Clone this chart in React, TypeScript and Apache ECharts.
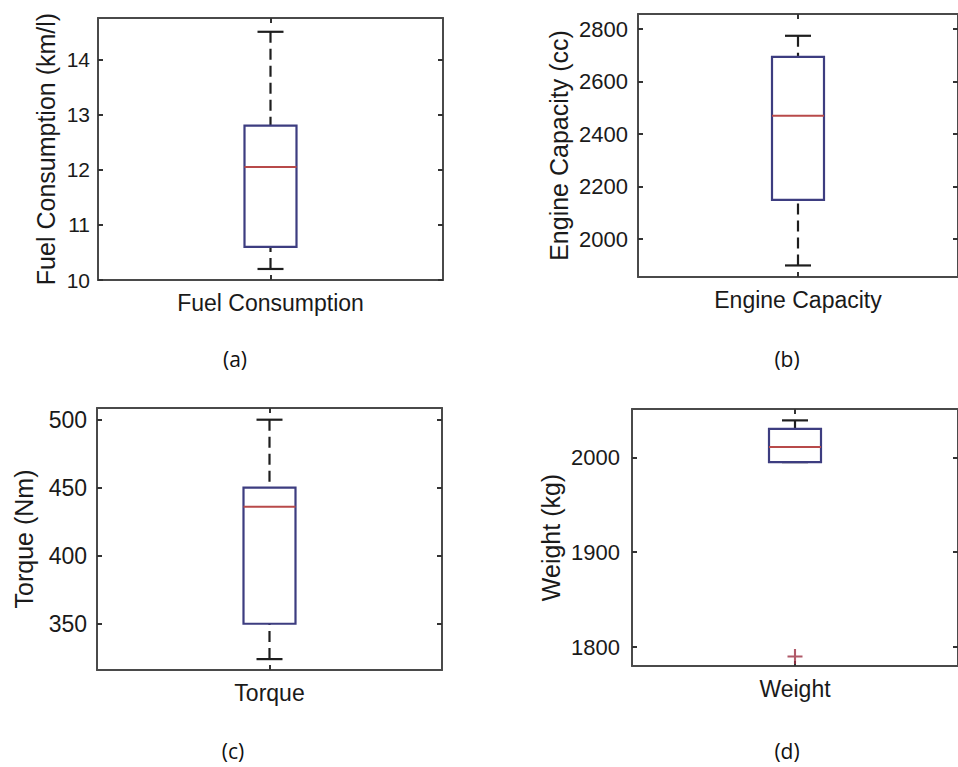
import React, { useEffect, useRef } from "react";
import * as echarts from "echarts";

// ---- data ----
const categories = ["Fuel Consumption", "Engine Capacity", "Torque", "Weight"];
const yAxisNames = ["Fuel Consumption (km/l)", "Engine Capacity (cc)", "Torque (Nm)", "Weight (kg)"];
const captions = ["(a)", "(b)", "(c)", "(d)"];
// [lower whisker, Q1, median, Q3, upper whisker]
const fuelBox = [10.2, 10.6, 12.05, 12.8, 14.5];
const engineBox = [1900, 2150, 2470, 2695, 2775];
const torqueBox = [324, 350, 436, 450, 500];
const weightBox = [1995, 1995, 2011, 2030, 2039];
const weightOutliers = [1790];
const fuelTicks = [10, 11, 12, 13, 14];
const engineTicks = [2000, 2200, 2400, 2600, 2800];
const torqueTicks = [350, 400, 450, 500];
const weightTicks = [1800, 1900, 2000];
const yMins = [10, 1856, 316, 1780];
const yMaxs = [14.75, 2858, 508.6, 2051];

const boxes = [fuelBox, engineBox, torqueBox, weightBox];
const ticks = [fuelTicks, engineTicks, torqueTicks, weightTicks];
const outliers = [[], [], [], weightOutliers];

// ---- layout / style ----
const grids = [
  { left: 98, top: 18, width: 345, height: 262 },
  { left: 638, top: 14, width: 322, height: 263 },
  { left: 97, top: 408, width: 345, height: 262 },
  { left: 632, top: 409, width: 328, height: 257 },
];
const tickFont = [21, 22, 23, 22];
const tickMargin = [8, 10, 10, 12];
const nameGaps = [40, 67, 61, 69];
const captionPos = [
  [235, 359],
  [787, 359],
  [233, 751],
  [787, 751],
];
const FONT = '"Liberation Sans", Arial, sans-serif';
const FRAME = "#4a4a4a";
const BOX_COLOR = "#3d3d80";
const MEDIAN_COLOR = "#b84a4a";
const WHISKER_COLOR = "#1e1e1e";
const TEXT = "#1a1a1a";

function buildOption() {
  const xAxis: any[] = [];
  const yAxis: any[] = [];
  const series: any[] = [];
  const axisLine = { show: true, onZero: false, lineStyle: { color: FRAME, width: 2 } };
  const plain = (v: number) => String(v);

  for (let i = 0; i < 4; i++) {
    const xTick = { show: true, inside: true, alignWithLabel: true, length: 5, lineStyle: { color: "#333", width: 2 } };
    xAxis.push({
      type: "category",
      gridIndex: i,
      data: [categories[i]],
      position: "bottom",
      axisLine,
      axisTick: xTick,
      axisLabel: { fontSize: 23, color: TEXT, margin: 11, fontFamily: FONT },
      splitLine: { show: false },
    });
    xAxis.push({
      type: "category",
      gridIndex: i,
      data: [categories[i]],
      position: "top",
      axisLine,
      axisTick: xTick,
      axisLabel: { show: false },
      splitLine: { show: false },
    });
    const yTick = { show: true, inside: true, length: 5, customValues: ticks[i], lineStyle: { color: "#333", width: 2 } };
    yAxis.push({
      type: "value",
      gridIndex: i,
      min: yMins[i],
      max: yMaxs[i],
      position: "left",
      axisLine,
      axisTick: yTick,
      axisLabel: {
        customValues: ticks[i],
        formatter: plain,
        fontSize: tickFont[i],
        color: TEXT,
        margin: tickMargin[i],
        fontFamily: FONT,
      },
      splitLine: { show: false },
      name: yAxisNames[i],
      nameLocation: "middle",
      nameRotate: 90,
      nameGap: nameGaps[i],
      nameTextStyle: { fontSize: 25, color: TEXT, fontFamily: FONT },
    });
    yAxis.push({
      type: "value",
      gridIndex: i,
      min: yMins[i],
      max: yMaxs[i],
      position: "right",
      axisLine,
      axisTick: yTick,
      axisLabel: { show: false },
      splitLine: { show: false },
    });

    series.push({
      type: "custom",
      xAxisIndex: 2 * i,
      yAxisIndex: 2 * i,
      encode: { x: 0, y: [1, 2, 3, 4, 5] },
      data: [[0, ...boxes[i]]],
      clip: false,
      renderItem: (_params: any, api: any) => {
        const x = api.value(0);
        const lo = api.coord([x, api.value(1)]);
        const q1 = api.coord([x, api.value(2)]);
        const md = api.coord([x, api.value(3)]);
        const q3 = api.coord([x, api.value(4)]);
        const hi = api.coord([x, api.value(5)]);
        const cx = lo[0];
        const bw = 52;
        const cw = 26;
        const dash = { stroke: WHISKER_COLOR, lineWidth: 2.2, lineDash: [11, 6] };
        const solid = { stroke: WHISKER_COLOR, lineWidth: 2.2 };
        return {
          type: "group",
          children: [
            { type: "line", shape: { x1: cx, y1: hi[1], x2: cx, y2: q3[1] }, style: dash },
            { type: "line", shape: { x1: cx, y1: lo[1], x2: cx, y2: q1[1] }, style: dash },
            { type: "line", shape: { x1: cx - cw / 2, y1: hi[1], x2: cx + cw / 2, y2: hi[1] }, style: solid },
            { type: "line", shape: { x1: cx - cw / 2, y1: lo[1], x2: cx + cw / 2, y2: lo[1] }, style: solid },
            {
              type: "rect",
              shape: { x: cx - bw / 2, y: q3[1], width: bw, height: q1[1] - q3[1] },
              style: { fill: "#fff", stroke: BOX_COLOR, lineWidth: 2.2 },
            },
            { type: "line", shape: { x1: cx - bw / 2, y1: md[1], x2: cx + bw / 2, y2: md[1] }, style: { stroke: MEDIAN_COLOR, lineWidth: 2 } },
          ],
        };
      },
    });

    if (outliers[i].length) {
      series.push({
        type: "scatter",
        xAxisIndex: 2 * i,
        yAxisIndex: 2 * i,
        data: outliers[i].map((v) => [0, v]),
        symbol: "path://M8.6,0h2.8v20h-2.8zM0,8.6h20v2.8h-20z",
        symbolSize: 15,
        itemStyle: { color: "#9c2f42" },
      });
    }
  }

  const graphic = captions.map((c, i) => ({
    type: "text",
    x: captionPos[i][0],
    y: captionPos[i][1],
    style: {
      text: c,
      font: '21px "Open Sans", sans-serif',
      fill: "#111",
      textAlign: "center",
      align: "center",
      textVerticalAlign: "middle",
      verticalAlign: "middle",
    },
  }));

  return {
    animation: false,
    backgroundColor: "#fff",
    grid: grids.map((g) => ({ ...g, containLabel: false })),
    xAxis,
    yAxis,
    series,
    graphic,
  };
}

export default function App() {
  const ref = useRef<HTMLDivElement>(null);
  useEffect(() => {
    if (!ref.current) return;
    const chart = echarts.init(ref.current, undefined, { renderer: "svg" });
    chart.setOption(buildOption() as any);
    return () => chart.dispose();
  }, []);
  return (
    <div
      ref={ref}
      style={{ position: "absolute", left: 0, top: 0, width: 958, height: 767, background: "#fff" }}
    />
  );
}
